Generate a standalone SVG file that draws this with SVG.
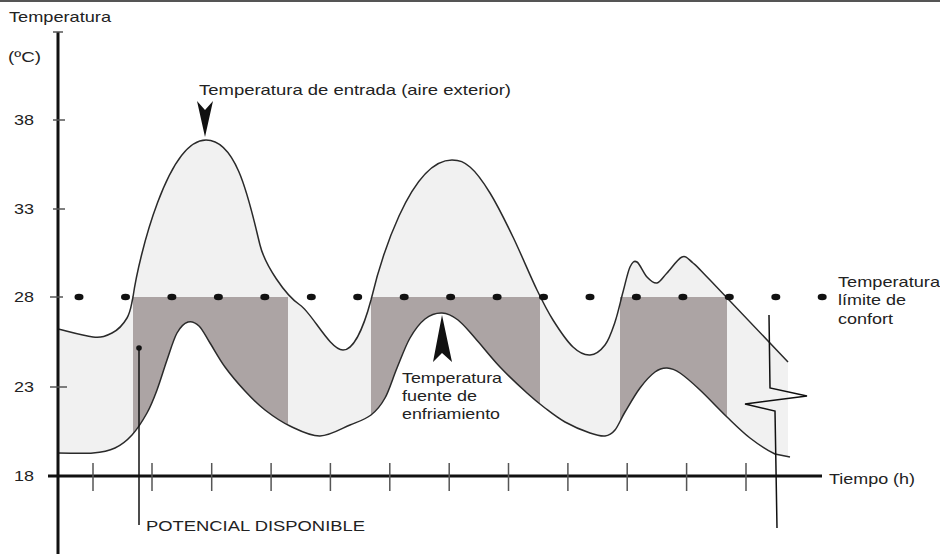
<svg xmlns="http://www.w3.org/2000/svg" width="940" height="554" viewBox="0 0 940 554">
<style>
  text { font-family: "Liberation Sans", Arial, sans-serif; font-size: 15px; fill: #222; }
  .curve { fill: none; stroke: #2a2a2a; stroke-width: 1.5; }
  .axis { stroke: #111; stroke-width: 3; fill: none; }
  .tick { stroke: #555; stroke-width: 1.5; }
  .thin { stroke: #111; stroke-width: 1.5; fill: none; }
  .dot { fill: #111; }
  .dark { fill: #aca4a4; }
</style>

<line x1="0" y1="1" x2="940" y2="1" stroke="#555" stroke-width="2"/>

<g id="fills">
  <path d="M58,329 C70,332 84,336 93,337 S106,336 112,333 S123.5,324 127,318 S130.3,310 133,297 C139,255 168,140 206,140 C238,140 250,205 260,245 C265,265 285,295 300,305 C312,313 330,350 343,350 C353,350 363,330 371,300 C380,262 410,160 452,160 C460,160 464,162 470,167 S482.8,181.3 490,193 S505.2,220.8 513,237 S530.3,276.2 537,290 S547,310.5 553,320 S566.8,341.2 573,347 S584.7,355.3 590,355 S600.8,350.5 605,345 S612,330.8 615,322 S620.5,301.2 623,292 S627.7,272 630,267 S634.2,260.3 637,262 S643.7,273.5 647,277 S653.7,283.7 657,283 S662.8,277.3 667,273 S677.7,258.7 682,257 S688.3,259.2 693,263 S694.2,263.5 710,280 L788,362 L788,470 L58,470 Z" fill="#f1f1f1"/>
  <rect class="dark" x="133" y="297" width="155" height="173"/>
  <rect class="dark" x="371" y="297" width="169" height="173"/>
  <rect class="dark" x="620" y="297" width="107" height="173"/>
  <path d="M58,453 C70,453 83.5,453.8 93,453 S108.5,451 115,448 S126.7,440.8 132,435 S142.8,420.5 147,413 S153.7,398.8 157,390 S163.7,369.5 167,360 S173.5,339.3 177,333 S184.3,323.2 188,322 S195.3,322.5 199,326 S205.7,336.2 210,343 S219.2,359 225,367 S238.3,383.8 245,391 S257.5,404.2 265,410 S280.8,421.7 290,426 S310,436.2 320,436 S341.5,428.5 350,425 S365.2,419.5 371,415 S380.7,405.8 385,398 S392.8,378 397,368 S405.3,346.2 410,338 S419.7,323.2 425,319 S436.5,312.8 442,313 S452.5,315.8 458,320 S468,330.2 475,338 S491.3,357.8 500,367 S519.5,386.2 527,393 S538.7,403.2 545,408 S557.5,417.8 565,422 S583.3,430.7 590,433 S600.8,436.5 605,436 S611.7,434 615,430 S620.8,419 625,412 S635,394.7 640,388 S650.5,375.3 655,372 S662.8,367.8 667,368 S674.5,369.3 680,373 S692.2,382.7 700,390 S718.7,409 727,417 S742,431.8 750,438 S768.3,450.8 775,454 L790,457 L790,474 L58,474 Z" fill="#ffffff"/>
</g>

<g id="connectors">
  <path class="curve" d="M58,329 C70,332 84,336 93,337 S106,336 112,333 S123.5,324 127,318 S130.3,310 133,297 C139,255 168,140 206,140 C238,140 250,205 260,245 C265,265 285,295 300,305 C312,313 330,350 343,350 C353,350 363,330 371,300 C380,262 410,160 452,160 C460,160 464,162 470,167 S482.8,181.3 490,193 S505.2,220.8 513,237 S530.3,276.2 537,290 S547,310.5 553,320 S566.8,341.2 573,347 S584.7,355.3 590,355 S600.8,350.5 605,345 S612,330.8 615,322 S620.5,301.2 623,292 S627.7,272 630,267 S634.2,260.3 637,262 S643.7,273.5 647,277 S653.7,283.7 657,283 S662.8,277.3 667,273 S677.7,258.7 682,257 S688.3,259.2 693,263 S694.2,263.5 710,280 L788,362"/>
  <path class="curve" d="M58,453 C70,453 83.5,453.8 93,453 S108.5,451 115,448 S126.7,440.8 132,435 S142.8,420.5 147,413 S153.7,398.8 157,390 S163.7,369.5 167,360 S173.5,339.3 177,333 S184.3,323.2 188,322 S195.3,322.5 199,326 S205.7,336.2 210,343 S219.2,359 225,367 S238.3,383.8 245,391 S257.5,404.2 265,410 S280.8,421.7 290,426 S310,436.2 320,436 S341.5,428.5 350,425 S365.2,419.5 371,415 S380.7,405.8 385,398 S392.8,378 397,368 S405.3,346.2 410,338 S419.7,323.2 425,319 S436.5,312.8 442,313 S452.5,315.8 458,320 S468,330.2 475,338 S491.3,357.8 500,367 S519.5,386.2 527,393 S538.7,403.2 545,408 S557.5,417.8 565,422 S583.3,430.7 590,433 S600.8,436.5 605,436 S611.7,434 615,430 S620.8,419 625,412 S635,394.7 640,388 S650.5,375.3 655,372 S662.8,367.8 667,368 S674.5,369.3 680,373 S692.2,382.7 700,390 S718.7,409 727,417 S742,431.8 750,438 S768.3,450.8 775,454 L790,457"/>
  <polyline class="thin" points="769,315 770,388 807,396 745,404 775,411 777,528"/>
  <line class="thin" x1="139" y1="348" x2="139" y2="525"/>
  <circle class="dot" cx="139" cy="348" r="2.8"/>
</g>

<g id="axes">
  <line class="axis" x1="58" y1="32" x2="58" y2="554"/>
  <line class="axis" x1="48" y1="476" x2="822" y2="476"/>
  <line class="tick" x1="53" y1="32" x2="63" y2="32"/>
  <line class="tick" x1="53" y1="120" x2="65" y2="120"/>
  <line class="tick" x1="53" y1="209" x2="65" y2="209"/>
  <line class="tick" x1="50" y1="297" x2="63" y2="297"/>
  <line class="tick" x1="50" y1="387" x2="67" y2="387"/>
  <line class="tick" x1="93" y1="463" x2="93" y2="491"/>
  <line class="tick" x1="152" y1="463" x2="152" y2="491"/>
  <line class="tick" x1="211.7" y1="463" x2="211.7" y2="491"/>
  <line class="tick" x1="271.1" y1="463" x2="271.1" y2="491"/>
  <line class="tick" x1="330.4" y1="463" x2="330.4" y2="491"/>
  <line class="tick" x1="389.8" y1="463" x2="389.8" y2="491"/>
  <line class="tick" x1="449.2" y1="463" x2="449.2" y2="491"/>
  <line class="tick" x1="508.5" y1="463" x2="508.5" y2="491"/>
  <line class="tick" x1="567.9" y1="463" x2="567.9" y2="491"/>
  <line class="tick" x1="627.2" y1="463" x2="627.2" y2="491"/>
  <line class="tick" x1="686.6" y1="463" x2="686.6" y2="491"/>
  <line class="tick" x1="746" y1="463" x2="746" y2="491"/>
</g>

<g id="comfort-line">
  <ellipse class="dot" cx="79" cy="297" rx="4.5" ry="3.3"/>
  <ellipse class="dot" cx="125.5" cy="297" rx="4.5" ry="3.3"/>
  <ellipse class="dot" cx="171.9" cy="297" rx="4.5" ry="3.3"/>
  <ellipse class="dot" cx="218.4" cy="297" rx="4.5" ry="3.3"/>
  <ellipse class="dot" cx="264.8" cy="297" rx="4.5" ry="3.3"/>
  <ellipse class="dot" cx="311.3" cy="297" rx="4.5" ry="3.3"/>
  <ellipse class="dot" cx="357.7" cy="297" rx="4.5" ry="3.3"/>
  <ellipse class="dot" cx="404.2" cy="297" rx="4.5" ry="3.3"/>
  <ellipse class="dot" cx="450.6" cy="297" rx="4.5" ry="3.3"/>
  <ellipse class="dot" cx="497.1" cy="297" rx="4.5" ry="3.3"/>
  <ellipse class="dot" cx="543.5" cy="297" rx="4.5" ry="3.3"/>
  <ellipse class="dot" cx="590" cy="297" rx="4.5" ry="3.3"/>
  <ellipse class="dot" cx="636.4" cy="297" rx="4.5" ry="3.3"/>
  <ellipse class="dot" cx="682.9" cy="297" rx="4.5" ry="3.3"/>
  <ellipse class="dot" cx="729.3" cy="297" rx="4.5" ry="3.3"/>
  <ellipse class="dot" cx="775.8" cy="297" rx="4.5" ry="3.3"/>
  <ellipse class="dot" cx="822.2" cy="297" rx="4.5" ry="3.3"/>
</g>

<g id="arrows">
  <polygon points="197,101 205,110 213,101 205,137" fill="#111"/>
  <polygon points="442,315 452,362 442,353 433,362" fill="#111"/>
</g>

<g id="labels">
  <text x="9" y="22" textLength="102" lengthAdjust="spacingAndGlyphs">Temperatura</text>
  <text x="8" y="62" textLength="33" lengthAdjust="spacingAndGlyphs">(ºC)</text>
  <text x="14" y="125" textLength="20" lengthAdjust="spacingAndGlyphs">38</text>
  <text x="14" y="214" textLength="20" lengthAdjust="spacingAndGlyphs">33</text>
  <text x="14" y="302" textLength="20" lengthAdjust="spacingAndGlyphs">28</text>
  <text x="14" y="392" textLength="20" lengthAdjust="spacingAndGlyphs">23</text>
  <text x="14" y="481" textLength="20" lengthAdjust="spacingAndGlyphs">18</text>
  <text x="199" y="95" textLength="312" lengthAdjust="spacingAndGlyphs">Temperatura de entrada (aire exterior)</text>
  <text x="838" y="287" textLength="102" lengthAdjust="spacingAndGlyphs">Temperatura</text>
  <text x="838" y="305" textLength="68" lengthAdjust="spacingAndGlyphs">límite de</text>
  <text x="838" y="324" textLength="55" lengthAdjust="spacingAndGlyphs">confort</text>
  <text x="402" y="383" textLength="100" lengthAdjust="spacingAndGlyphs">Temperatura</text>
  <text x="402" y="401" textLength="75" lengthAdjust="spacingAndGlyphs">fuente de</text>
  <text x="402" y="419" textLength="98" lengthAdjust="spacingAndGlyphs">enfriamiento</text>
  <text x="829" y="484" textLength="86" lengthAdjust="spacingAndGlyphs">Tiempo (h)</text>
  <text x="146" y="531" textLength="219" lengthAdjust="spacingAndGlyphs">POTENCIAL DISPONIBLE</text>
</g>
</svg>
